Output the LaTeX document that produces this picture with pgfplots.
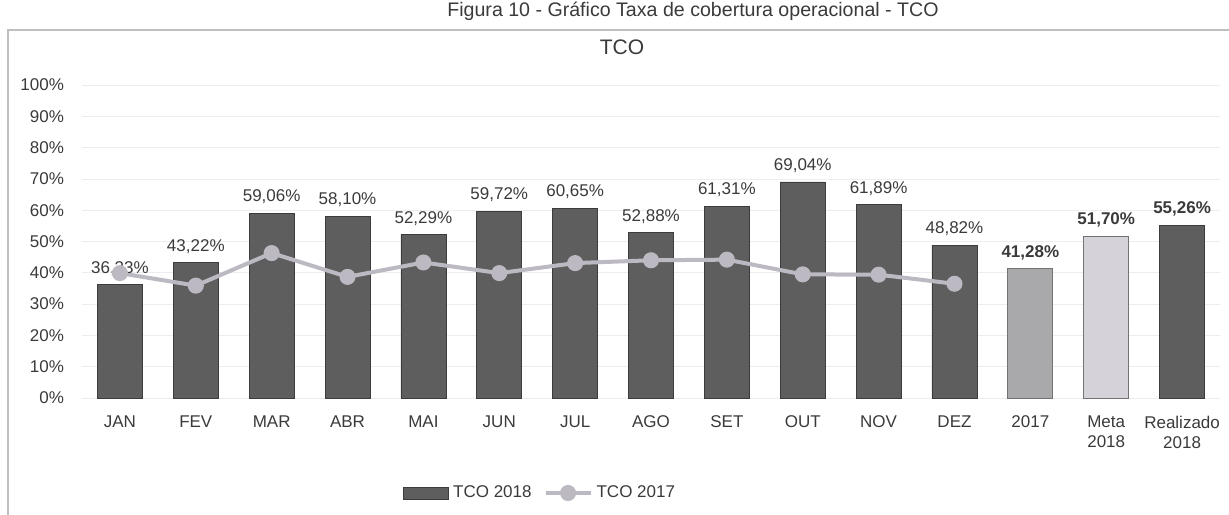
\documentclass[border=0pt]{standalone}
\usepackage{fontspec}
\setmainfont{Liberation Sans}
\usepackage{pgfplots}
\pgfplotsset{compat=1.18}

\definecolor{barDark}{HTML}{5E5E5E}
\definecolor{barEdge}{HTML}{3C3C3C}
\definecolor{bar2017}{HTML}{A9A9AC}
\definecolor{barMeta}{HTML}{D5D3D9}
\definecolor{lineGray}{HTML}{BDB9C2}
\definecolor{txt}{HTML}{3A3A3A}

\pgfplotsset{
  barlegend/.style={legend image code/.code={\draw[fill=barDark,draw=barEdge] (0pt,-3pt) rectangle (22.5pt,3pt);}},
  linelegend/.style={legend image code/.code={\draw[##1, mark repeat=2, mark phase=2] plot coordinates {(0pt,0pt) (11.25pt,0pt) (22.5pt,0pt)};}},
  pctlabel/.style={nodes near coords={\pgfmathprintnumber[fixed,fixed zerofill,precision=2,use comma,assume math mode=true]{\pgfplotspointmeta}\%}},
}

\begin{document}
\begin{tikzpicture}[font=\fontsize{8.5}{10}\selectfont]
\begin{axis}[
    at={(0pt,0pt)}, anchor=south west,
    width=569pt, height=156.5pt, scale only axis,
    font=\fontsize{8.5}{10}\selectfont,
    xmin=-0.5, xmax=14.5,
    ymin=0, ymax=100,
    xtick={0,...,14},
    xticklabels={JAN,FEV,MAR,ABR,MAI,JUN,JUL,AGO,SET,OUT,NOV,DEZ,2017,Meta\\2018,Realizado\\2018},
    ytick={0,10,...,100},
    yticklabel={\pgfmathprintnumber{\tick}\%},
    /pgf/number format/assume math mode=true,
    xticklabel style={align=center, anchor=north, yshift=-5.5pt, text=txt},
    yticklabel style={anchor=east, xshift=-5.5pt, text=txt},
    axis line style={draw=none},
    major tick style={draw=none},
    ymajorgrids=true,
    grid style={draw=black!7, line width=0.4pt},
    nodes near coords style={text=txt, font=\fontsize{8.5}{10}\selectfont, yshift=1pt},
    legend style={at={(0.4035,-0.3035)}, anchor=center, draw=none, fill=none,
        legend columns=2, text=txt,
        /tikz/every even column/.append style={column sep=4pt}},
]
% meses 2018
\addplot[ybar, bar width=22.5pt, bar shift=0pt, fill=barDark, draw=barEdge, pctlabel, barlegend]
coordinates {(0,36.33) (1,43.22) (2,59.06) (3,58.10) (4,52.29) (5,59.72)
             (6,60.65) (7,52.88) (8,61.31) (9,69.04) (10,61.89) (11,48.82)};
\addlegendentry{TCO 2018}
% TCO 2017 mensal
\addplot[sharp plot, color=lineGray, line width=2pt, mark=*, mark size=3pt,
    mark options={fill=lineGray, draw=lineGray}, linelegend]
coordinates {(0,39.9) (1,35.9) (2,46.3) (3,38.7) (4,43.3) (5,39.9)
             (6,43.1) (7,44.0) (8,44.2) (9,39.5) (10,39.4) (11,36.5)};
\addlegendentry{TCO 2017}
% totais
\addplot[ybar, bar width=22.5pt, bar shift=0pt, fill=bar2017, draw=black!55, forget plot,
    pctlabel, nodes near coords style={font=\fontsize{8.5}{10}\selectfont\bfseries}]
coordinates {(12,41.28)};
\addplot[ybar, bar width=22.5pt, bar shift=0pt, fill=barMeta, draw=black!55, forget plot,
    pctlabel, nodes near coords style={font=\fontsize{8.5}{10}\selectfont\bfseries}]
coordinates {(13,51.70)};
\addplot[ybar, bar width=22.5pt, bar shift=0pt, fill=barDark, draw=barEdge, forget plot,
    pctlabel, nodes near coords style={font=\fontsize{8.5}{10}\selectfont\bfseries}]
coordinates {(14,55.26)};
\end{axis}

% título e moldura
\node[text=txt, font=\fontsize{10.5}{12}\selectfont] at (270pt,175.5pt) {TCO};
\node[text=txt, font=\fontsize{9.8}{11}\selectfont, anchor=north, inner sep=0.5pt]
    at (305.5pt,198.5pt) {Figura 10 - Gráfico Taxa de cobertura operacional - TCO};
\draw[black!25, line width=0.6pt] (-37pt,-60pt) -- (-37pt,184pt) -- (580pt,184pt);

\pgfresetboundingbox
\path[use as bounding box] (-41pt,-58pt) rectangle (573.5pt,199pt);
\end{tikzpicture}
\end{document}
